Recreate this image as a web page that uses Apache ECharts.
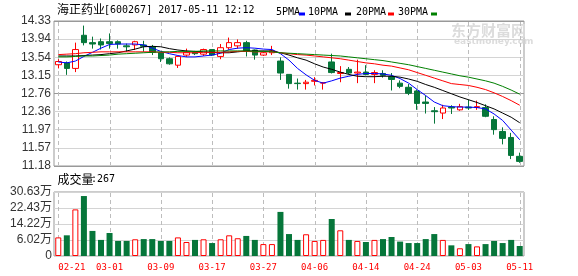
<!DOCTYPE html>
<html><head><meta charset="utf-8">
<script src="https://cdn.jsdelivr.net/npm/echarts/dist/echarts.min.js"></script>
<style>html,body{margin:0;padding:0;background:#fff}#c{width:578px;height:276px}</style>
</head><body><div id="c"></div>
<script>
const dates = ['02-21','02-22','02-23','02-24','02-27','02-28','03-01','03-02','03-03','03-06','03-07','03-08','03-09','03-10','03-13','03-14','03-15','03-16','03-17','03-20','03-21','03-22','03-23','03-24','03-27','03-28','03-29','03-30','03-31','04-05','04-06','04-07','04-10','04-11','04-12','04-13','04-14','04-17','04-18','04-19','04-20','04-21','04-24','04-25','04-26','04-27','04-28','05-02','05-03','05-04','05-05','05-08','05-09','05-10','05-11'];
const openV  = [13.38,13.42,13.30,14.02,13.86,13.88,13.88,13.88,13.79,13.81,13.81,13.77,13.64,13.51,13.37,13.59,13.66,13.61,13.71,13.56,13.75,13.79,13.86,13.70,13.59,13.64,13.46,13.17,12.98,12.97,13.02,12.98,13.44,13.19,13.28,13.20,13.22,13.17,13.19,13.12,12.98,12.89,12.81,12.57,12.38,12.33,12.46,12.40,12.46,12.45,12.45,12.19,11.93,11.80,11.39];
const closeV = [13.45,13.30,13.71,13.86,13.83,13.81,13.84,13.83,13.77,13.88,13.78,13.65,13.51,13.40,13.56,13.65,13.62,13.71,13.59,13.75,13.86,13.86,13.68,13.59,13.64,13.68,13.20,12.97,12.97,13.00,13.04,12.99,13.21,13.21,13.20,13.22,13.17,13.21,13.15,13.06,12.91,12.76,12.54,12.54,12.36,12.44,12.44,12.47,12.44,12.47,12.26,11.97,11.78,11.41,11.28];
const lowV   = [13.30,13.16,13.22,13.80,13.73,13.71,13.73,13.73,13.66,13.70,13.66,13.59,13.44,13.38,13.31,13.55,13.59,13.57,13.57,13.50,13.71,13.73,13.56,13.49,13.57,13.59,13.05,12.86,12.84,12.84,12.93,12.84,13.19,13.00,13.17,12.98,13.15,12.98,13.10,12.82,12.87,12.72,12.40,12.32,12.10,12.20,12.31,12.38,12.40,12.40,12.24,11.86,11.65,11.33,11.25];
const highV  = [13.50,13.45,13.86,14.23,13.99,13.95,14.06,13.91,13.84,13.90,13.90,13.81,13.64,13.54,13.56,13.73,13.68,13.73,13.71,13.83,13.97,13.93,13.90,13.71,13.66,13.79,13.54,13.17,13.08,13.05,13.11,13.00,13.62,13.35,13.33,13.49,13.37,13.26,13.26,13.20,13.04,12.96,12.84,12.71,12.46,12.51,12.50,12.53,12.62,12.60,12.52,12.26,12.02,11.90,11.47];
const volume = [8.9,9.9,22.3,28.7,12.0,7.7,11.0,7.2,7.2,8.0,8.1,8.1,7.2,7.2,8.9,6.7,7.7,8.0,6.2,8.0,9.9,8.5,9.6,7.7,5.7,5.7,21.1,10.5,7.7,10.4,7.2,7.7,17.7,12.3,7.7,7.2,6.7,7.7,8.1,9.1,6.9,6.2,6.2,8.1,10.5,7.7,5.1,3.7,5.7,4.6,5.7,7.2,6.2,7.7,4.8];
const ma5  = [13.44,13.42,13.46,13.56,13.65,13.74,13.82,13.83,13.83,13.83,13.81,13.74,13.67,13.62,13.58,13.55,13.55,13.57,13.59,13.63,13.71,13.74,13.75,13.74,13.72,13.71,13.62,13.48,13.30,13.16,13.04,12.98,13.03,13.09,13.13,13.17,13.19,13.19,13.18,13.15,13.08,12.98,12.84,12.71,12.57,12.49,12.47,12.46,12.46,12.45,12.42,12.31,12.17,11.96,11.75];
const ma10 = [13.57,13.57,13.57,13.58,13.59,13.60,13.62,13.64,13.68,13.72,13.77,13.78,13.77,13.73,13.70,13.68,13.67,13.66,13.65,13.64,13.64,13.66,13.68,13.68,13.68,13.68,13.64,13.59,13.53,13.48,13.40,13.33,13.28,13.22,13.17,13.13,13.12,13.12,13.13,13.13,13.11,13.07,13.02,12.95,12.89,12.82,12.75,12.68,12.62,12.56,12.49,12.42,12.33,12.24,12.12];
const ma20 = [13.60,13.61,13.62,13.64,13.65,13.66,13.66,13.66,13.66,13.66,13.66,13.66,13.65,13.65,13.64,13.64,13.64,13.65,13.65,13.65,13.66,13.67,13.67,13.66,13.66,13.66,13.64,13.62,13.60,13.59,13.57,13.55,13.53,13.51,13.48,13.45,13.42,13.40,13.37,13.35,13.31,13.27,13.21,13.15,13.09,13.03,12.97,12.95,12.93,12.89,12.84,12.77,12.69,12.60,12.50];
const ma30 = [13.55,13.55,13.56,13.57,13.57,13.58,13.59,13.61,13.62,13.63,13.64,13.65,13.66,13.66,13.67,13.67,13.67,13.68,13.68,13.68,13.68,13.68,13.68,13.67,13.67,13.66,13.64,13.63,13.62,13.61,13.60,13.59,13.58,13.57,13.55,13.53,13.51,13.49,13.47,13.44,13.41,13.38,13.34,13.30,13.26,13.22,13.18,13.14,13.11,13.07,13.03,12.98,12.91,12.83,12.74];
const priceTicks = ['11.18','11.57','11.97','12.36','12.76','13.15','13.54','13.94','14.33'];
const volTicks = ['0','6.02万','14.22万','22.43万','30.63万'];
const volMax = 30.63;
const gridDates = ['02-21','03-01','03-09','03-17','03-27','04-06','04-14','04-24','05-03','05-11'];
const titleName = '海正药业';
const titleInfo = '[600267] 2017-05-11 12:12';
const volLabel = '成交量';
const volNow = ':267';
const maNames = ['5PMA','10PMA','20PMA','30PMA'];

const GREEN = '#06763a';
const maColors = ['#0000ff','#000000','#ff0000','#008000'];
const pMin = Number(priceTicks[0]), pMax = Number(priceTicks[priceTicks.length-1]);
const pStep = (pMax - pMin) / (priceTicks.length - 1);
const vStep = volMax / (volTicks.length - 1);
const MONO = '"DejaVu Sans Mono", monospace';
const CJK = '"Noto Sans CJK SC", sans-serif';

const chart = echarts.init(document.getElementById('c'), null, {renderer:'canvas'});

// vertical dashed grid lines (short solid rects) at labelled dates, positioned via the axes
const vGrid = (gi, lo, hi) => ({
  type:'custom', xAxisIndex:gi, yAxisIndex:gi, z:2, silent:true,
  encode:{x:0, y:1},
  data: gridDates.map(d => [dates.indexOf(d), hi]),
  renderItem:(params, api) => {
    const i = api.value(0);
    const a = api.coord([i, hi]);
    const b = api.coord([i, lo]);
    const x = Math.round(a[0]);
    const kids = [];
    for (let y = Math.round(a[1]) + 1; y < b[1] - 1; y += 7) {
      kids.push({type:'rect', shape:{x:x, y:y, width:1, height:Math.min(4, b[1] - 1 - y)},
        style:{fill:'#bdbdbd'}});
    }
    return {type:'group', children:kids};
  }
});

const legendGraphics = [];
const legendX = [276, 308, 356, 398];
const legendRectX = [299, 345, 388, 431];
maNames.forEach((n,i) => {
  legendGraphics.push({type:'text', x:legendX[i], y:12, style:{text:n, font:'10px '+MONO, fill:'#000', textVerticalAlign:'middle'}});
  legendGraphics.push({type:'rect', shape:{x:legendRectX[i], y:12.5, width:6, height:3}, style:{fill:maColors[i]}});
});

chart.setOption({
  animation:false,
  backgroundColor:'#fff',
  grid:[
    {left:54, top:21, width:470, height:145, show:true, borderColor:'#999', borderWidth:1},
    {left:54, top:192, width:470, height:64, show:true, borderColor:'#999', borderWidth:1}
  ],
  xAxis:[
    {type:'category', gridIndex:0, data:dates, boundaryGap:true, axisLine:{show:false}, axisTick:{show:false}, axisLabel:{show:false}, splitLine:{show:false}},
    {type:'category', gridIndex:1, data:dates, boundaryGap:true, axisLine:{show:false}, axisTick:{show:false}, splitLine:{show:false},
     axisLabel:{interval:5, color:'#f00', fontFamily:MONO, fontSize:9, margin:7, alignMinLabel:'left'}}
  ],
  yAxis:[
    {type:'value', gridIndex:0, min:pMin, max:pMax, interval:pStep, scale:true,
     axisLine:{show:false}, axisTick:{show:false},
     axisLabel:{color:'#333', fontFamily:'"Liberation Sans", Arial, sans-serif', fontSize:12, margin:3,
       formatter:v => priceTicks[Math.round((v - pMin)/pStep)]},
     splitLine:{lineStyle:{width:1, color:['#999','#d4d4d4','#d4d4d4','#d4d4d4','#999','#d4d4d4','#d4d4d4','#d4d4d4','#999']}}},
    {type:'value', gridIndex:1, min:0, max:volMax, interval:vStep,
     axisLine:{show:false}, axisTick:{show:false},
     axisLabel:{color:'#333', fontFamily:'"Liberation Sans", Arial, "Noto Sans CJK SC", sans-serif', fontSize:12, margin:2,
       formatter:v => volTicks[Math.round(v / vStep)]},
     splitLine:{lineStyle:{width:1, color:'#d4d4d4'}}}
  ],
  graphic:[
    {type:'text', x:451, y:30, z:0, style:{text:'东方财富网', font:'bold 15px '+CJK, fill:'#dcdcdc', textVerticalAlign:'middle'}},
    {type:'text', x:454, y:41.5, z:0, style:{text:'eastmoney.com', font:'bold 9px "DejaVu Sans", sans-serif', fill:'#dcdcdc', textVerticalAlign:'middle'}},
    {type:'text', x:57, y:9.5, style:{text:titleName, font:'12px '+CJK, fill:'#000', textVerticalAlign:'middle'}},
    {type:'text', x:104, y:10, style:{text:titleInfo, font:'10px '+MONO, fill:'#000', textVerticalAlign:'middle'}},
    {type:'text', x:57.5, y:179, style:{text:volLabel, font:'12px '+CJK, fill:'#000', textVerticalAlign:'middle'}},
    {type:'text', x:91, y:179.5, style:{text:volNow, font:'10px '+MONO, fill:'#000', textVerticalAlign:'middle'}}
  ].concat(legendGraphics),
  series:[
    vGrid(0, pMin, pMax),
    vGrid(1, 0, volMax),
    {type:'candlestick', xAxisIndex:0, yAxisIndex:0, z:3, barWidth:6, large:false,
     data: dates.map((d,i) => [openV[i], closeV[i], lowV[i], highV[i]]),
     itemStyle:{color:'#fff', color0:GREEN, borderColor:'#f00', borderColor0:GREEN, borderWidth:1}},
    ...[ma5, ma10, ma20, ma30].map((arr,k) => ({
      type:'line', name:maNames[k], xAxisIndex:0, yAxisIndex:0, data:arr, z:4,
      symbol:'none', showSymbol:false, smooth:false,
      lineStyle:{color:maColors[k], width:1}, itemStyle:{color:maColors[k]}
    })),
    {type:'bar', xAxisIndex:1, yAxisIndex:1, barWidth:6, z:3,
     data: volume.map((v,i) => ({value:v, itemStyle: closeV[i] > openV[i]
        ? {color:'#fff', borderColor:'#f00', borderWidth:1}
        : {color:GREEN}}))}
  ]
});
</script>
</body></html>
